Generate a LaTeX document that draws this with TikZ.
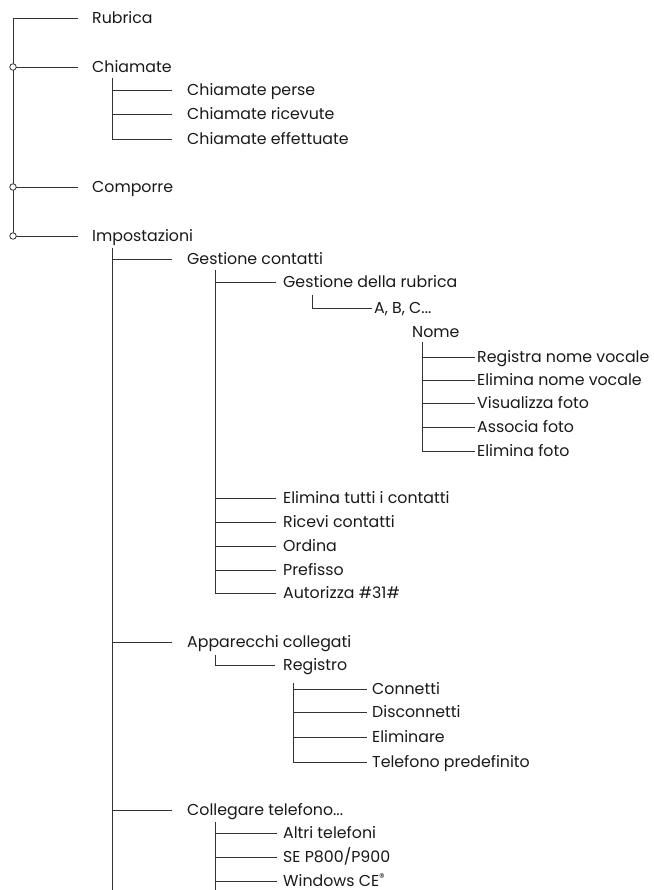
\documentclass[tikz,border=0pt]{standalone}
\usepackage{fontspec}
\setmainfont{Poppins}
\begin{document}
\begin{tikzpicture}[x=1pt,y=-1pt,
  lbl/.style={anchor=west,inner sep=0pt,text height=11pt,text depth=0pt,
    font=\fontsize{15.8}{16}\selectfont,text=black!90},
  ln/.style={draw=black!80,line width=0.8pt},
  knot/.style={circle,draw=black!80,fill=white,line width=0.8pt,inner sep=0pt,minimum size=6.5pt}]
\useasboundingbox (0,0) rectangle (653,890);
% level 0
\node[lbl] (rub) at (92,18) {Rubrica};
\node[lbl] (chi) at (92,67) {Chiamate};
\node[lbl] (com) at (92,187) {Comporre};
\node[lbl] (imp) at (92,236) {Impostazioni};
\coordinate (t0) at (13,18);
\draw[ln] (t0) -- (t0 |- imp.west);
\foreach \n in {rub,chi,com,imp}{\draw[ln] (\n.west -| t0) -- ([xshift=-14pt]\n.west);}
\foreach \n in {chi,com,imp}{\node[knot] at (\n.west -| t0) {};}
% Chiamate
\coordinate (t1) at (112,78);
\node[lbl] (cp) at (187,90) {Chiamate perse};
\node[lbl] (cr) at (187,114) {Chiamate ricevute};
\node[lbl] (ce) at (187,139) {Chiamate effettuate};
\draw[ln] (t1) -- (t1 |- ce.west);
\foreach \n in {cp,cr,ce}{\draw[ln] (\n.west -| t1) -- ([xshift=-15pt]\n.west);}
% Impostazioni
\coordinate (t2) at (112,248);
\coordinate (t2b) at (112,890);
\draw[ln] (t2) -- (t2b);
\node[lbl] (gc) at (187,259) {Gestione contatti};
\node[lbl] (ac) at (187,642) {Apparecchi collegati};
\node[lbl] (ct) at (187,810) {Collegare telefono...};
\foreach \n in {gc,ac,ct}{\draw[ln] (\n.west -| t2) -- ([xshift=-15pt]\n.west);}
% Gestione contatti
\coordinate (t3) at (215,270);
\node[lbl] (gr) at (283,282) {Gestione della rubrica};
\node[lbl] (et) at (283,498) {Elimina tutti i contatti};
\node[lbl] (rc) at (283,522) {Ricevi contatti};
\node[lbl] (or) at (283,546) {Ordina};
\node[lbl] (pr) at (283,570) {Prefisso};
\node[lbl] (au) at (283,593) {Autorizza \#31\#};
\draw[ln] (t3) -- (t3 |- au.west);
\foreach \n in {gr,et,rc,or,pr,au}{\draw[ln] (\n.west -| t3) -- ([xshift=-7pt]\n.west);}
% A, B, C
\coordinate (t4) at (312,295);
\node[lbl] (abc) at (374,308) {A, B, C...};
\draw[ln] (t4) -- (t4 |- abc.west) -- ([xshift=-2pt]abc.west);
\node[lbl] (nome) at (412,332) {Nome};
\coordinate (t5) at (422,342);
\node[lbl] (rn) at (477,357) {Registra nome vocale};
\node[lbl] (en) at (477,380) {Elimina nome vocale};
\node[lbl] (vf) at (477,403) {Visualizza foto};
\node[lbl] (af) at (477,427) {Associa foto};
\node[lbl] (ef) at (477,451) {Elimina foto};
\draw[ln] (t5) -- (t5 |- ef.west);
\foreach \n in {rn,en,vf,af,ef}{\draw[ln] (\n.west -| t5) -- ([xshift=-2pt]\n.west);}
% Apparecchi collegati
\coordinate (t6) at (215,655);
\node[lbl] (reg) at (283,665) {Registro};
\draw[ln] (t6) -- (t6 |- reg.west) -- ([xshift=-8pt]reg.west);
\coordinate (t7) at (293,683);
\node[lbl] (cn) at (372,689) {Connetti};
\node[lbl] (dc) at (372,712) {Disconnetti};
\node[lbl] (el) at (372,737) {Eliminare};
\node[lbl] (tp) at (372,762) {Telefono predefinito};
\draw[ln] (t7) -- (t7 |- tp.west);
\foreach \n in {cn,dc,el,tp}{\draw[ln] (\n.west -| t7) -- ([xshift=-5pt]\n.west);}
% Collegare telefono
\coordinate (t8) at (215,822);
\coordinate (t8b) at (215,890);
\draw[ln] (t8) -- (t8b);
\node[lbl] (at) at (283,833) {Altri telefoni};
\node[lbl] (se) at (283,857) {SE P800/P900};
\node[lbl] (wc) at (283,881) {Windows CE\textsuperscript{®}};
\foreach \n in {at,se,wc}{\draw[ln] (\n.west -| t8) -- ([xshift=-6pt]\n.west);}
\end{tikzpicture}
\end{document}
